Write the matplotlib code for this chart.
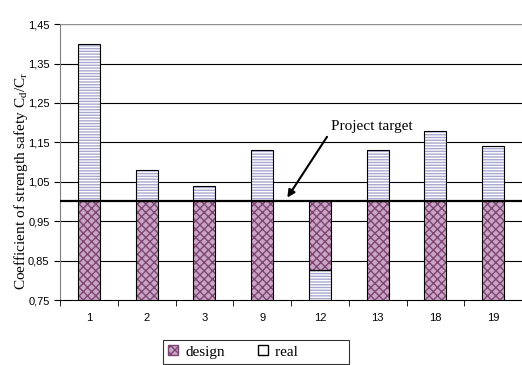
import matplotlib
matplotlib.use('Agg')
import matplotlib.pyplot as plt
from matplotlib.patches import Patch
import numpy as np

plt.rcParams['hatch.linewidth'] = 1.0
plt.rcParams['mathtext.fontset'] = 'custom'
plt.rcParams['mathtext.rm'] = 'Liberation Serif'
plt.rcParams['mathtext.it'] = 'Liberation Serif'

# data
categories = ['1', '2', '3', '9', '12', '13', '18', '19']
design = [1.0, 1.0, 1.0, 1.0, 1.0, 1.0, 1.0, 1.0]
real = [1.40, 1.08, 1.04, 1.13, 0.826, 1.13, 1.18, 1.14]
y_min = 0.75
target = 1.0

DESIGN_FACE = '#caa6c4'
DESIGN_HATCH = '#7d4674'
REAL_HATCH = '#a8a8d0'

fig = plt.figure(figsize=(5.22, 3.65), dpi=100)
ax = fig.add_axes([0.115, 0.178, 0.885, 0.756])

x = np.arange(len(categories))
w = 0.38


def seg(i, lo, hi, kind):
    if kind == 'design':
        ax.bar(i, hi - lo, w, bottom=lo, facecolor=DESIGN_FACE, edgecolor=DESIGN_HATCH,
               hatch='xxxx', linewidth=0, zorder=3)
    else:
        ax.bar(i, hi - lo, w, bottom=lo, facecolor='white', edgecolor=REAL_HATCH,
               hatch='------', linewidth=0, zorder=3)
    ax.bar(i, hi - lo, w, bottom=lo, fill=False, edgecolor='black',
           linewidth=0.8, zorder=4)


for i in x:
    d, r = design[i], real[i]
    if r >= d:
        seg(i, y_min, d, 'design')
        seg(i, d, r, 'real')
    else:
        seg(i, y_min, r, 'real')
        seg(i, r, d, 'design')

ax.set_xlim(-0.5, len(categories) - 0.5)
ax.set_ylim(0.75, 1.45)
yt = np.arange(0.75, 1.451, 0.1)
ax.set_yticks(yt)
ax.set_yticklabels([f'{v:.2f}'.replace('.', ',') for v in yt],
                   fontsize=8, family='Liberation Sans')
for v in yt[1:-1]:
    ax.axhline(v, color='black', linewidth=0.8, zorder=1)
ax.axhline(1.45, color='#909090', linewidth=1.0, zorder=1)
ax.axhline(target, color='black', linewidth=1.6, zorder=5)

ax.set_xticks(x)
ax.set_xticklabels(categories, fontsize=8, family='Liberation Sans')
ax.set_xticks(np.arange(-0.5, len(categories)), minor=True)
ax.tick_params(axis='x', which='major', length=0, pad=9)
ax.tick_params(axis='x', which='minor', length=4, direction='out')
ax.tick_params(axis='y', length=4, direction='out')

for s in ['top', 'right']:
    ax.spines[s].set_visible(False)
ax.spines['left'].set_color('#808080')
ax.spines['bottom'].set_color('black')

ax.set_ylabel('Coefficient of strength safety C$_{\\rm d}$/C$_{\\rm r}$', fontsize=11,
              family='Liberation Serif')
ax.yaxis.set_label_coords(-0.066, 0.43)

# project target label + arrow
ax.text(4.2, 1.19, 'Project target', fontsize=11, family='Liberation Serif',
        ha='left', va='center', zorder=6)
ax.annotate('', xy=(3.41, target + 0.004), xytext=(4.15, 1.17),
            arrowprops=dict(arrowstyle='-|>', color='black', lw=1.5, mutation_scale=11),
            zorder=6)

handles = [Patch(facecolor=DESIGN_FACE, edgecolor=DESIGN_HATCH, hatch='xxxx', label='design'),
           Patch(facecolor='white', edgecolor='black', label='real' + '\u2007' * 6)]
leg = fig.legend(handles=handles, loc='upper left',
                 bbox_to_anchor=(163 / 522, 1 - 340 / 365),
                 ncol=2, frameon=True, fancybox=False, edgecolor='black',
                 prop={'family': 'Liberation Serif', 'size': 11},
                 handlelength=0.6, handleheight=0.6, handletextpad=0.5,
                 columnspacing=2.2, borderpad=0.35, borderaxespad=0)
leg.get_frame().set_linewidth(0.8)

fig.savefig('out.png', dpi=100)
